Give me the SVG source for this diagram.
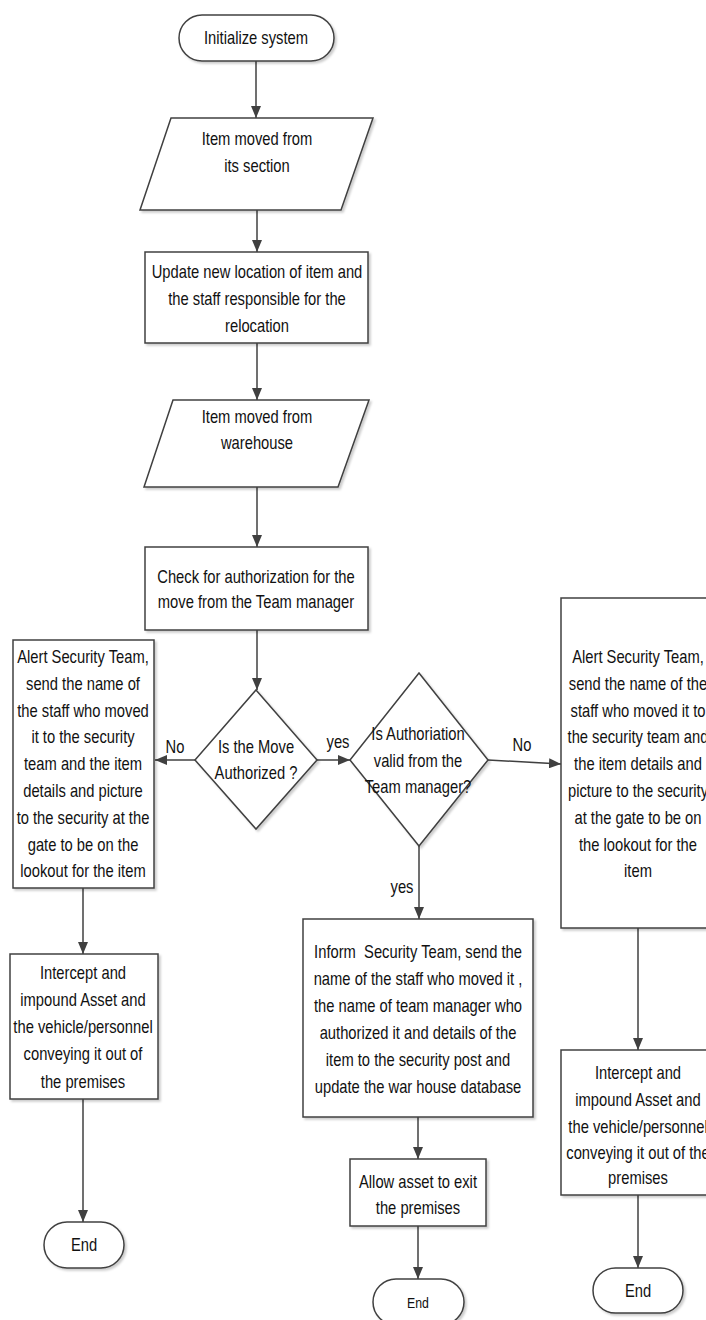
<svg xmlns="http://www.w3.org/2000/svg" width="706" height="1320" viewBox="0 0 706 1320">
<style>
.s{fill:#fff;stroke:#404040;stroke-width:1.5}
.t{font-family:"Liberation Sans",Arial,sans-serif;font-size:18px;fill:#111;text-anchor:middle}
.c{stroke:#404040;stroke-width:1.5;fill:none;marker-end:url(#ah)}
</style>
<defs>
<marker id="ah" markerUnits="userSpaceOnUse" markerWidth="12" markerHeight="10" refX="12" refY="5" orient="auto">
<path d="M0,0 L12,5 L0,10 z" fill="#404040"/>
</marker>
<filter id="sh" x="-5%" y="-5%" width="115%" height="115%">
<feDropShadow dx="2" dy="2" stdDeviation="1" flood-color="#000" flood-opacity="0.2"/>
</filter>
</defs>
<rect width="706" height="1320" fill="#fff"/>
<g id="connectors">
<line class="c" x1="256" y1="61" x2="256" y2="118"/>
<line class="c" x1="257" y1="210" x2="257" y2="252"/>
<line class="c" x1="257" y1="343" x2="257" y2="400"/>
<line class="c" x1="257" y1="487" x2="257" y2="547"/>
<line class="c" x1="257" y1="630" x2="257" y2="690"/>
<line class="c" x1="195" y1="760" x2="155" y2="760"/>
<line class="c" x1="317" y1="760" x2="350" y2="760"/>
<line class="c" x1="488" y1="760" x2="561" y2="764"/>
<line class="c" x1="419" y1="846" x2="419" y2="919"/>
<line class="c" x1="83" y1="888" x2="83" y2="954"/>
<line class="c" x1="83" y1="1099" x2="83" y2="1222"/>
<line class="c" x1="418" y1="1117" x2="418" y2="1159"/>
<line class="c" x1="418" y1="1226" x2="418" y2="1279"/>
<line class="c" x1="638" y1="928" x2="638" y2="1050"/>
<line class="c" x1="638" y1="1195" x2="638" y2="1268"/>
<text class="t" transform="translate(175 0) scale(0.82 1)" x="0" y="753">No</text>
<text class="t" transform="translate(338 0) scale(0.82 1)" x="0" y="748">yes</text>
<text class="t" transform="translate(522 0) scale(0.82 1)" x="0" y="751">No</text>
<text class="t" transform="translate(402 0) scale(0.82 1)" x="0" y="893">yes</text>
</g>
<g id="start">
<rect class="s" filter="url(#sh)" x="179" y="15" width="155" height="46" rx="23"/>
<g transform="translate(256 0) scale(0.82 1)">
<text class="t" x="0" y="44">Initialize system</text>
</g>
</g>
<g id="moved-section">
<polygon class="s" filter="url(#sh)" points="171,118 373,118 341,210 140,210"/>
<g transform="translate(257 0) scale(0.82 1)">
<text class="t" x="0" y="145">Item moved from</text>
<text class="t" x="0" y="172">its section</text>
</g>
</g>
<g id="update-location">
<rect class="s" filter="url(#sh)" x="145" y="252" width="223" height="91"/>
<g transform="translate(257 0) scale(0.82 1)">
<text class="t" x="0" y="278">Update new location of item and</text>
<text class="t" x="0" y="305">the staff responsible for the</text>
<text class="t" x="0" y="332">relocation</text>
</g>
</g>
<g id="moved-warehouse">
<polygon class="s" filter="url(#sh)" points="173,400 369,400 338,487 144,487"/>
<g transform="translate(257 0) scale(0.82 1)">
<text class="t" x="0" y="423">Item moved from</text>
<text class="t" x="0" y="449">warehouse</text>
</g>
</g>
<g id="check-auth">
<rect class="s" filter="url(#sh)" x="145" y="547" width="223" height="83"/>
<g transform="translate(256 0) scale(0.82 1)">
<text class="t" x="0" y="583">Check for authorization for the</text>
<text class="t" x="0" y="608">move from the Team manager</text>
</g>
</g>
<g id="is-authorized">
<polygon class="s" filter="url(#sh)" points="256,690 317,760 256,829 195,760"/>
<g transform="translate(256 0) scale(0.82 1)">
<text class="t" x="0" y="753">Is the Move</text>
<text class="t" x="0" y="779">Authorized ?</text>
</g>
</g>
<g id="is-valid">
<polygon class="s" filter="url(#sh)" points="419,673 488,760 419,846 350,760"/>
<g transform="translate(418 0) scale(0.82 1)">
<text class="t" x="0" y="740">Is Authoriation</text>
<text class="t" x="0" y="767">valid from the</text>
<text class="t" x="0" y="793">Team manager?</text>
</g>
</g>
<g id="alert-left">
<rect class="s" filter="url(#sh)" x="13" y="640" width="141" height="248"/>
<g transform="translate(83 0) scale(0.82 1)">
<text class="t" x="0" y="663">Alert Security Team,</text>
<text class="t" x="0" y="690">send the name of</text>
<text class="t" x="0" y="717">the staff who moved</text>
<text class="t" x="0" y="743">it to the security</text>
<text class="t" x="0" y="770">team and the item</text>
<text class="t" x="0" y="797">details and picture</text>
<text class="t" x="0" y="824">to the security at the</text>
<text class="t" x="0" y="851">gate to be on the</text>
<text class="t" x="0" y="877">lookout for the item</text>
</g>
</g>
<g id="intercept-left">
<rect class="s" filter="url(#sh)" x="10" y="954" width="148" height="145"/>
<g transform="translate(83 0) scale(0.82 1)">
<text class="t" x="0" y="979">Intercept and</text>
<text class="t" x="0" y="1006">impound Asset and</text>
<text class="t" x="0" y="1033">the vehicle/personnel</text>
<text class="t" x="0" y="1060">conveying it out of</text>
<text class="t" x="0" y="1088">the premises</text>
</g>
</g>
<g id="end-left">
<rect class="s" filter="url(#sh)" x="44" y="1222" width="80" height="46" rx="23"/>
<g transform="translate(84 0) scale(0.82 1)">
<text class="t" x="0" y="1251">End</text>
</g>
</g>
<g id="inform">
<rect class="s" filter="url(#sh)" x="303" y="919" width="230" height="198"/>
<g transform="translate(418 0) scale(0.82 1)">
<text class="t" x="0" y="958" xml:space="preserve">Inform  Security Team, send the</text>
<text class="t" x="0" y="985">name of the staff who moved it ,</text>
<text class="t" x="0" y="1012">the name of team manager who</text>
<text class="t" x="0" y="1039">authorized it and details of the</text>
<text class="t" x="0" y="1066">item to the security post and</text>
<text class="t" x="0" y="1093">update the war house database</text>
</g>
</g>
<g id="allow">
<rect class="s" filter="url(#sh)" x="350" y="1159" width="136" height="67"/>
<g transform="translate(418 0) scale(0.82 1)">
<text class="t" x="0" y="1188">Allow asset to exit</text>
<text class="t" x="0" y="1214">the premises</text>
</g>
</g>
<g id="end-middle">
<rect class="s" filter="url(#sh)" x="373" y="1279" width="91" height="46" rx="23"/>
<g transform="translate(418 0) scale(0.82 1)">
<text class="t" x="0" y="1308" style="font-size:15px">End</text>
</g>
</g>
<g id="alert-right">
<rect class="s" filter="url(#sh)" x="561" y="598" width="156" height="330"/>
<g transform="translate(638 0) scale(0.82 1)">
<text class="t" x="0" y="663">Alert Security Team,</text>
<text class="t" x="0" y="690">send the name of the</text>
<text class="t" x="0" y="717">staff who moved it to</text>
<text class="t" x="0" y="743">the security team and</text>
<text class="t" x="0" y="770">the item details and</text>
<text class="t" x="0" y="797">picture to the security</text>
<text class="t" x="0" y="824">at the gate to be on</text>
<text class="t" x="0" y="851">the lookout for the</text>
<text class="t" x="0" y="877">item</text>
</g>
</g>
<g id="intercept-right">
<rect class="s" filter="url(#sh)" x="561" y="1050" width="156" height="145"/>
<g transform="translate(638 0) scale(0.82 1)">
<text class="t" x="0" y="1079">Intercept and</text>
<text class="t" x="0" y="1106">impound Asset and</text>
<text class="t" x="0" y="1133">the vehicle/personnel</text>
<text class="t" x="0" y="1159">conveying it out of the</text>
<text class="t" x="0" y="1184">premises</text>
</g>
</g>
<g id="end-right">
<rect class="s" filter="url(#sh)" x="593" y="1268" width="90" height="45" rx="22.5"/>
<g transform="translate(638 0) scale(0.82 1)">
<text class="t" x="0" y="1297">End</text>
</g>
</g>
</svg>
